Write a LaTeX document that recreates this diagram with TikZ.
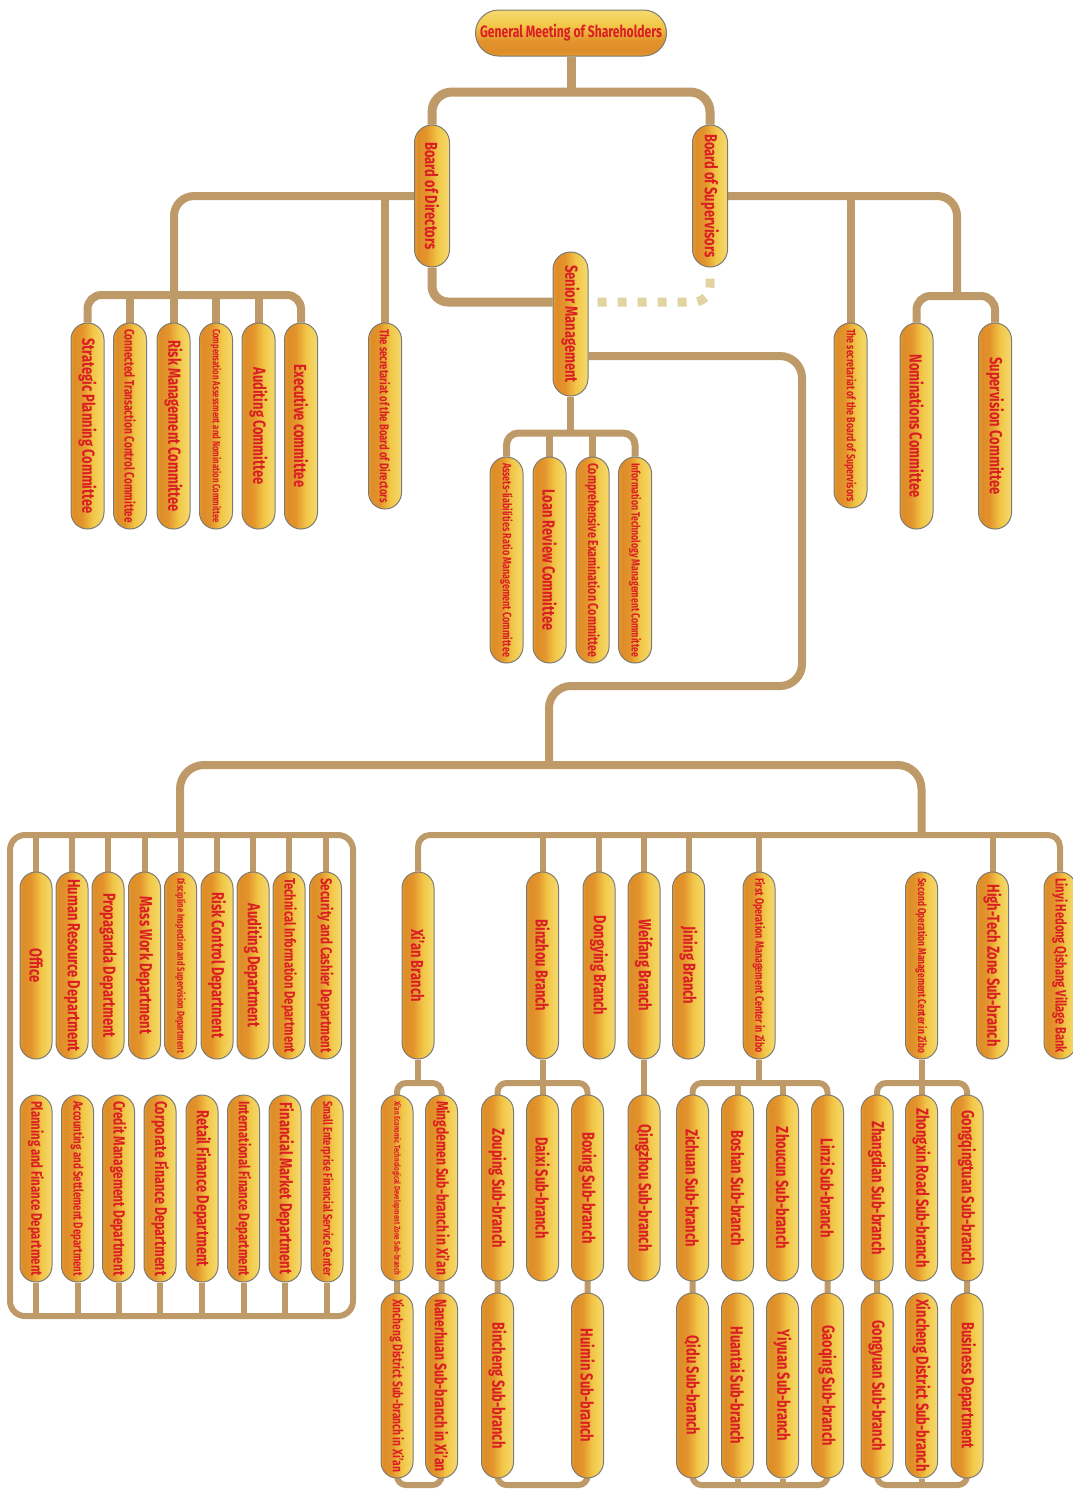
\documentclass[tikz,border=0pt]{standalone}
\usepackage{fontspec}
\setmainfont{Fira Sans}[FakeStretch=0.74]
\usepackage{graphicx}
\usetikzlibrary{calc,fadings}

\definecolor{linkc}{RGB}{190,154,104}
\definecolor{dotc}{RGB}{226,212,160}
\definecolor{txtred}{RGB}{218,30,36}
\definecolor{rimc}{RGB}{125,122,115}
\definecolor{capc}{RGB}{165,70,35}

% body colour of the capsules: gold edge, orange core, pale highlight
\pgfdeclarehorizontalshading{pillsh}{100bp}{rgb(0bp)=(0.94,0.76,0.20); rgb(10bp)=(0.95,0.78,0.22); rgb(30bp)=(0.87,0.55,0.16); rgb(42bp)=(0.89,0.58,0.17); rgb(58bp)=(0.95,0.78,0.28); rgb(82bp)=(0.96,0.89,0.50); rgb(100bp)=(0.94,0.86,0.48)}
\pgfdeclareverticalshading{pillshv}{100bp}{rgb(0bp)=(0.94,0.76,0.20); rgb(10bp)=(0.95,0.78,0.22); rgb(30bp)=(0.87,0.55,0.16); rgb(42bp)=(0.89,0.58,0.17); rgb(58bp)=(0.95,0.78,0.28); rgb(82bp)=(0.96,0.89,0.50); rgb(100bp)=(0.94,0.86,0.48)}
% darker tint at the two ends of each capsule
\pgfdeclareverticalshading{capfv}{100bp}{color(0bp)=(white!55!black); color(8bp)=(black); color(92bp)=(black); color(100bp)=(white!55!black)}
\pgfdeclarefading{capfade}{\pgfuseshading{capfv}}
\pgfdeclarehorizontalshading{capfh}{100bp}{color(0bp)=(white!55!black); color(6bp)=(black); color(94bp)=(black); color(100bp)=(white!55!black)}
\pgfdeclarefading{capfadeh}{\pgfuseshading{capfh}}

\pgfdeclarelayer{bg}
\pgfsetlayers{bg,main}

\newcommand\pillfont{\bfseries\fontsize{17.5}{19}\selectfont}
\newsavebox\pillbox
% shrink a label only when it is longer than the capsule allows
\newcommand\fitpill[2]{\sbox\pillbox{#2}\ifdim\wd\pillbox>#1\relax\resizebox{#1}{!}{\usebox\pillbox}\else\usebox\pillbox\fi}

\tikzset{
  capsule/.style={rectangle, draw=rimc, line width=1pt, shading=pillsh, inner sep=0pt,
    text=txtred, font=\pillfont,
    path picture={\fill[capc, path fading=capfade] (path picture bounding box.south west) rectangle (path picture bounding box.north east);}},
  hcapsule/.style={rectangle, draw=rimc, line width=1pt, shading=pillshv, inner sep=0pt,
    text=txtred, font=\pillfont, rounded corners=23pt, minimum width=191, minimum height=46,
    path picture={\fill[capc, path fading=capfadeh] (path picture bounding box.south west) rectangle (path picture bounding box.north east);}},
  linkA/.style={draw=linkc, line width=9pt},
  linkB/.style={draw=linkc, line width=8pt},
  linkC/.style={draw=linkc, line width=7pt},
  linkD/.style={draw=linkc, line width=6pt},
  dotlink/.style={draw=dotc, line width=9pt, dash pattern=on 9pt off 11pt},
}

% \vpill[width]{name}{x}{top}{bottom}{label}
\newcommand\vpill[6][32]{%
  \pgfmathsetmacro\plen{#5-#4}\pgfmathsetmacro\pfit{#5-#4-12}\pgfmathsetmacro\prad{#1/2}%
  \node[capsule, minimum width=#1, minimum height=\plen, rounded corners=\prad pt] (#2) at (#3,{(#4+#5)/2})
    {\rotatebox{-90}{\fitpill{\pfit pt}{#6}}};}

\begin{document}
\begin{tikzpicture}[x=1pt,y=-1pt]
\useasboundingbox (0,0) rectangle (1073,1489);

% ---- governance
\node[hcapsule] (gms) at (571,33) {\fitpill{182pt}{General Meeting of Shareholders}};
\vpill[35]{bod}{432}{125}{267}{Board of Directors}
\vpill[35]{bos}{710}{125}{267}{Board of Supervisors}
\vpill[35]{sm}{570.5}{252}{396}{Senior Management}

% ---- committees of the board of directors
\vpill[33]{c1}{87.5}{323}{529}{Strategic Planning Committee}
\vpill[33]{c2}{130}{323}{529}{Connected Transaction Control Committee}
\vpill[33]{c3}{173.5}{323}{529}{Risk Management Committee}
\vpill[33]{c4}{216}{323}{529}{Compensation Assessment and Nomination Committee}
\vpill[33]{c5}{258.5}{323}{529}{Auditing Committee}
\vpill[33]{c6}{301}{323}{529}{Executive committee}
\vpill[33]{secd}{385}{323}{509}{The secretariat of the Board of Directors}

% ---- board of supervisors
\vpill[33]{secs}{850.5}{323}{508}{The secretariat of the Board of Supervisors}
\vpill[33]{nom}{916.5}{323}{529}{Nominations Committee}
\vpill[33]{sup}{995}{323}{529}{Supervision Committee}

% ---- committees of senior management
\vpill[33]{a1}{506.5}{457}{663}{Assets-liabilities Ratio Management Committee}
\vpill[33]{a2}{549.5}{457}{663}{Loan Review Committee}
\vpill[33]{a3}{592.5}{457}{663}{Comprehensive Examination Committee}
\vpill[33]{a4}{635}{457}{663}{Information Technology Management Committee}

% ---- head office departments
\vpill{d1}{36}{872}{1059}{Office}
\vpill{d2}{72}{872}{1059}{Human Resource Department}
\vpill{d3}{108}{872}{1059}{Propaganda Department}
\vpill{d4}{144.5}{872}{1059}{Mass Work Department}
\vpill{d5}{180.5}{872}{1059}{Discipline Inspection and Supervision Department}
\vpill{d6}{217}{872}{1059}{Risk Control Department}
\vpill{d7}{253}{872}{1059}{Auditing Department}
\vpill{d8}{289}{872}{1059}{Technical Information Department}
\vpill{d9}{325.5}{872}{1059}{Security and Cashier Department}
\vpill{e1}{36}{1095}{1282}{Planning and Finance Department}
\vpill{e2}{77.5}{1095}{1282}{Accounting and Settlement Department}
\vpill{e3}{118.5}{1095}{1282}{Credit Management Department}
\vpill{e4}{160}{1095}{1282}{Corporate Finance Department}
\vpill{e5}{202}{1095}{1282}{Retail Finance Department}
\vpill{e6}{243.5}{1095}{1282}{International Finance Department}
\vpill{e7}{285}{1095}{1282}{Financial Market Department}
\vpill{e8}{327}{1095}{1282}{Small Enterprise Financial Service Center}

% ---- branches
\vpill{xian}{418}{872}{1059}{Xi’an Branch}
\vpill{binz}{542.5}{872}{1059}{Binzhou Branch}
\vpill{dong}{599}{872}{1059}{Dongying Branch}
\vpill{weif}{644}{872}{1059}{Weifang Branch}
\vpill{jin}{688.5}{872}{1059}{Jining Branch}
\vpill{fst}{759}{872}{1059}{First Operation Management Center in Zibo}
\vpill{snd}{921.5}{872}{1059}{Second Operation Management Center in Zibo}
\vpill{htz}{992.5}{872}{1059}{High-Tech Zone Sub-branch}
\vpill{lin}{1060}{872}{1059}{Linyi Hedong Qishang Village Bank}

% ---- sub-branches
\vpill{x1}{397}{1095}{1281}{Xi’an Economic Technological Development Zone Sub-branch}
\vpill{x2}{441.5}{1095}{1281}{Mingdemen Sub-branch in Xi’an}
\vpill{x3}{397}{1293}{1478}{Xincheng District Sub-branch in Xi’an}
\vpill{x4}{441.5}{1293}{1478}{Nanerhuan Sub-branch in Xi’an}
\vpill{b1}{497.5}{1095}{1281}{Zouping Sub-branch}
\vpill{b2}{542.5}{1095}{1281}{Daixi Sub-branch}
\vpill{b3}{587.5}{1095}{1281}{Boxing Sub-branch}
\vpill{b4}{497.5}{1293}{1478}{Bincheng Sub-branch}
\vpill{b5}{587.5}{1293}{1478}{Huimin Sub-branch}
\vpill{w1}{644}{1095}{1281}{Qingzhou Sub-branch}
\vpill{z1}{692.5}{1095}{1281}{Zichuan Sub-branch}
\vpill{z2}{737.5}{1095}{1281}{Boshan Sub-branch}
\vpill{z3}{782.5}{1095}{1281}{Zhoucun Sub-branch}
\vpill{z4}{827.5}{1095}{1281}{Linzi Sub-branch}
\vpill{z5}{692.5}{1293}{1478}{Qidu Sub-branch}
\vpill{z6}{737.5}{1293}{1478}{Huantai Sub-branch}
\vpill{z7}{782.5}{1293}{1478}{Yiyuan Sub-branch}
\vpill{z8}{827.5}{1293}{1478}{Gaoqing Sub-branch}
\vpill{s1}{877}{1095}{1281}{Zhangdian Sub-branch}
\vpill{s2}{921.5}{1095}{1281}{Zhongxin Road Sub-branch}
\vpill{s3}{967}{1095}{1281}{Gongqingtuan Sub-branch}
\vpill{s4}{877}{1293}{1478}{Gongyuan Sub-branch}
\vpill{s5}{921.5}{1293}{1478}{Xincheng District Sub-branch}
\vpill{s6}{967}{1293}{1478}{Business Department}

% ---- connectors, drawn underneath the capsules
\begin{pgfonlayer}{bg}
\fill[white] (0,0) rectangle (1073,1489);
\coordinate (topbus) at (571,92);
\draw[linkA] (gms.south) -- (topbus);
\draw[linkA, rounded corners=20] (bod.north) |- (topbus) -| (bos.north);

\coordinate (cbus) at (174,295);
\draw[linkB, rounded corners=20] (bod.west) -| (cbus);
\draw[linkB, rounded corners=14] (c1.north) |- (cbus) -| (c6.north);
\foreach \n in {c2,c3,c4,c5} \draw[linkB] (\n.north) -- (\n.north |- cbus);
\draw[linkB] (secd.north) -- (secd.north |- bod.west);

\coordinate (sbus) at (957,296);
\draw[linkB, rounded corners=20] (bos.east) -| (sbus);
\draw[linkB, rounded corners=14] (nom.north) |- (sbus) -| (sup.north);
\draw[linkB] (secs.north) -- (secs.north |- bos.east);

\draw[linkA, rounded corners=16] (bod.south) |- ($(sm.west)+(0,-22)$);
\draw[dotlink, rounded corners=16] ($(sm.east)+(9,-22)$) -| (bos.south);

\coordinate (abus) at (570.5,433);
\draw[linkC] (sm.south) -- (abus);
\draw[linkC, rounded corners=12] (a1.north) |- (abus) -| (a4.north);
\foreach \n in {a2,a3} \draw[linkC] (\n.north) -- (\n.north |- abus);

\coordinate (rA) at (802,686);
\coordinate (rB) at (549,686);
\coordinate (mainbus) at (549,765);
\draw[linkB, rounded corners=22] ($(sm.east)+(0,32)$) -| (rA) -- (rB) -- (mainbus);
\coordinate (dtop) at (180,835);
\coordinate (btop) at (921.5,835);
\draw[linkB, rounded corners=24] (dtop) |- (mainbus) -| (btop);

% frame round the departments
\coordinate (dNW) at (10,835);
\coordinate (dSE) at (353,1316);
\draw[linkD, rounded corners=15] (dNW) rectangle (dSE);
\foreach \n in {d1,d2,d3,d4,d5,d6,d7,d8,d9} \draw[linkD] (\n.north) -- (\n.north |- dNW);
\foreach \n in {e1,e2,e3,e4,e5,e6,e7,e8} \draw[linkD] (\n.south) -- (\n.south |- dSE);

% branch bus
\draw[linkD, rounded corners=12] (xian.north) |- (btop) -| (lin.north);
\foreach \n in {binz,dong,weif,jin,fst,htz} \draw[linkD] (\n.north) -- (\n.north |- btop);

% sub-branch loops
\coordinate (subtop) at (0,1083);
\coordinate (subbot) at (0,1485);
\draw[linkD] (xian.south) -- (xian.south |- subtop);
\draw[linkD, rounded corners=9] (x1.north |- subtop) rectangle (x4.south |- subbot);
\draw[linkD] (binz.south) -- (b2.north);
\draw[linkD, rounded corners=9] (b1.north |- subtop) rectangle (b5.south |- subbot);
\draw[linkD] (weif.south) -- (w1.north);
\draw[linkD] (fst.south) -- (fst.south |- subtop);
\draw[linkD, rounded corners=9] (z1.north |- subtop) rectangle (z8.south |- subbot);
\foreach \n in {z2,z3} \draw[linkD] (\n.north) -- (\n.north |- subtop);
\foreach \n in {z6,z7} \draw[linkD] (\n.south) -- (\n.south |- subbot);
\draw[linkD] (snd.south) -- (s2.north);
\draw[linkD, rounded corners=9] (s1.north |- subtop) rectangle (s6.south |- subbot);
\draw[linkD] (s5.south) -- (s5.south |- subbot);
\end{pgfonlayer}
\end{tikzpicture}
\end{document}
